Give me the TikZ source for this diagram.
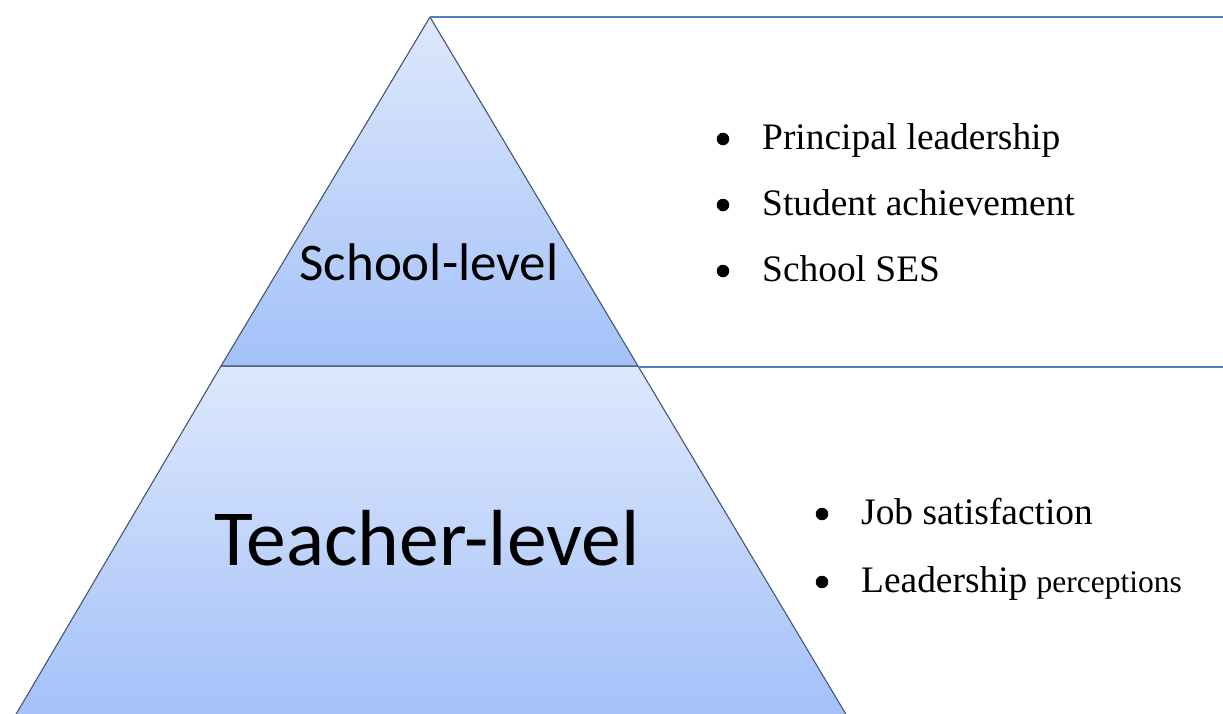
\documentclass[tikz,border=0pt]{standalone}
\usepackage{fontspec}
\setmainfont{Liberation Serif}
\newfontfamily\calib{Carlito}
\definecolor{lighttop}{HTML}{DEE8FC}
\definecolor{darkbot}{HTML}{A3C1F9}
\definecolor{edgec}{HTML}{435674}
\definecolor{linec}{HTML}{4F81BD}
\tikzset{
  level/.style={top color=lighttop, bottom color=darkbot, draw=edgec, line width=1.1pt, line join=round},
  guide/.style={draw=linec, line width=1.9pt},
  bul/.style={circle, fill=black, inner sep=0pt, minimum size=12.5pt},
  item/.style={anchor=base west, inner sep=0pt, font=\fontsize{37.4}{44}\selectfont},
  lvltext/.style={anchor=base, inner sep=0pt}
}
\begin{document}
\begin{tikzpicture}[x=1pt,y=-1pt]
\useasboundingbox (0,0) rectangle (1223,713);
\coordinate (apex) at (430,17);
\coordinate (ml) at (221,366);
\coordinate (mr) at (638,366);
\coordinate (bl) at (15,716);
\coordinate (br) at (847,716);
\coordinate (topend) at (1223,17);
\coordinate (midend) at (1223,367);
% levels
\shade[level] (ml) -- (bl) -- (br) -- (mr) -- cycle;
\shade[level] (apex) -- (ml) -- (mr) -- cycle;
% guide lines
\draw[guide] (apex) -- (topend);
\draw[guide] (mr |- midend) -- (midend);
% level labels
\node[lvltext, font=\calib\fontsize{53}{60}\selectfont] (school) at (429,280) {School-level};
\node[lvltext, font=\calib\fontsize{79.5}{90}\selectfont] (teacher) at (427,565) {Teacher-level};
% school items
\node[bul] (b1) at (723,139) {};
\node[item] (t1) at (762,149) {Principal leadership};
\node[bul] (b2) at (723,205) {};
\node[item] (t2) at (762,215) {Student achievement};
\node[bul] (b3) at (723,271) {};
\node[item] (t3) at (762,281) {School SES};
% teacher items
\node[bul] (b4) at (822,514) {};
\node[item] (t4) at (861,524) {Job satisfaction};
\node[bul] (b5) at (822,582) {};
\node[item] (t5) at (861,592) {Leadership {\fontsize{31.5}{36}\selectfont perceptions}};
\end{tikzpicture}
\end{document}
